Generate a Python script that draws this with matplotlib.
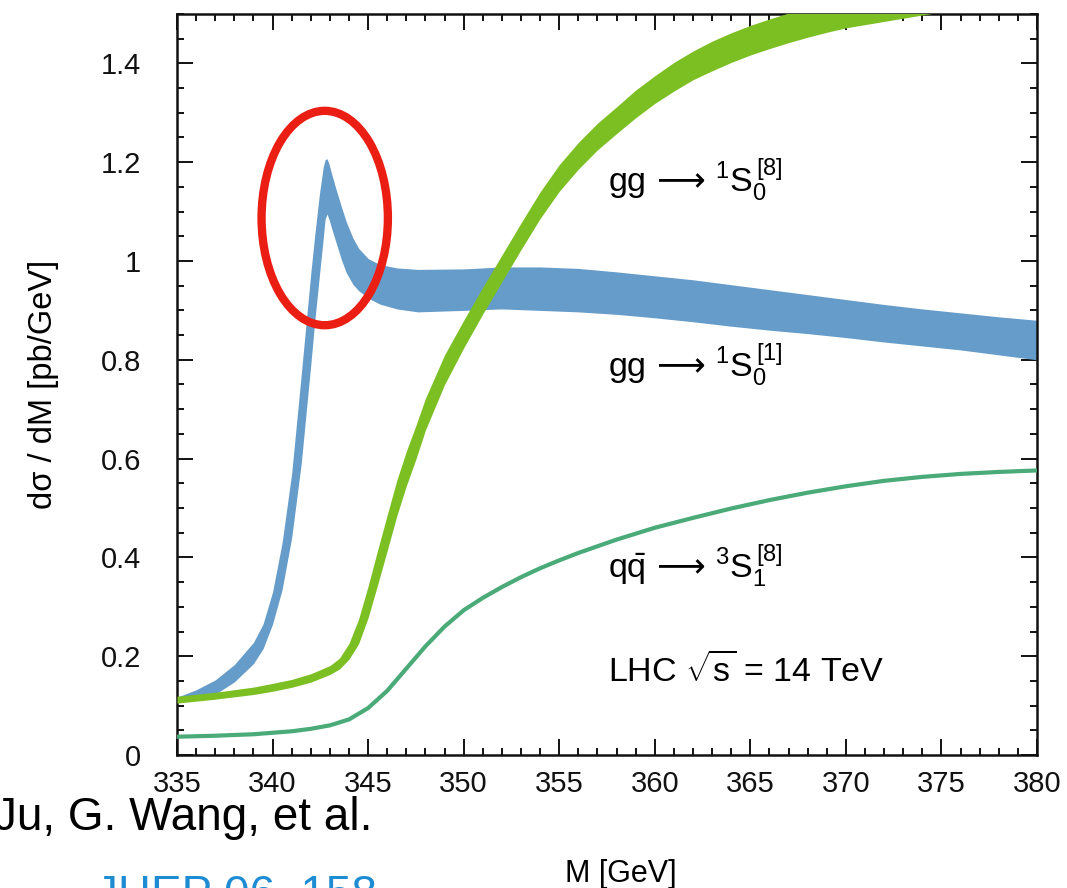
import numpy as np
import matplotlib
matplotlib.use('Agg')
import matplotlib.pyplot as plt
from matplotlib.patches import Ellipse
from matplotlib.ticker import MultipleLocator, FixedLocator

plt.rcParams['font.family'] = ['Liberation Sans', 'DejaVu Sans']
plt.rcParams['mathtext.fontset'] = 'custom'
plt.rcParams['mathtext.rm'] = 'Liberation Sans'
plt.rcParams['mathtext.it'] = 'Liberation Sans:italic'
plt.rcParams['mathtext.bf'] = 'Liberation Sans:bold'
plt.rcParams['mathtext.sf'] = 'DejaVu Sans'

# gg -> 1S0[1] band (blue)
m_singlet = [335, 336, 337, 338, 339, 339.5, 340, 340.5, 341, 341.5, 342, 342.2, 342.45,
             342.65, 342.75, 342.85, 342.95, 343.1, 343.3, 343.6, 343.85, 344.2, 344.5, 345,
             345.6, 346.5, 347.6, 350, 352, 354, 356, 358, 360, 362, 364, 366, 368, 370,
             372, 374, 376, 378, 380]
singlet_hi = [0.117, 0.132, 0.152, 0.183, 0.228, 0.265, 0.33, 0.43, 0.57, 0.77, 0.975, 1.05,
              1.135, 1.19, 1.205, 1.207, 1.197, 1.175, 1.148, 1.11, 1.08, 1.047, 1.026, 1.005,
              0.993, 0.986, 0.983, 0.984, 0.988, 0.988, 0.985, 0.978, 0.97, 0.962, 0.952,
              0.942, 0.932, 0.922, 0.912, 0.903, 0.895, 0.887, 0.88]
singlet_lo = [0.107, 0.111, 0.123, 0.148, 0.185, 0.215, 0.265, 0.335, 0.44, 0.59, 0.79, 0.875,
              0.97, 1.045, 1.085, 1.095, 1.085, 1.065, 1.04, 1.003, 0.977, 0.953, 0.94, 0.925,
              0.913, 0.903, 0.897, 0.90, 0.903, 0.90, 0.897, 0.892, 0.885, 0.877, 0.868,
              0.86, 0.853, 0.845, 0.836, 0.828, 0.82, 0.81, 0.80]

# gg -> 1S0[8] band (green)
m_octet = [335, 337, 339, 340, 341, 342, 343, 343.5, 344, 344.5, 345, 345.5, 346, 346.5,
           347, 347.5, 348, 349, 350, 351, 352, 353, 354, 355, 356, 357, 358, 359, 360,
           361, 362, 363, 364, 365, 366, 367, 368, 369, 370, 372, 374, 376, 378, 380]
octet_mid = [0.112, 0.12, 0.13, 0.137, 0.145, 0.156, 0.172, 0.185, 0.21, 0.25, 0.31, 0.38,
             0.45, 0.52, 0.58, 0.633, 0.69, 0.78, 0.852, 0.92, 0.985, 1.05, 1.113, 1.168,
             1.213, 1.252, 1.285, 1.318, 1.347, 1.373, 1.396, 1.415, 1.432, 1.447, 1.46,
             1.472, 1.483, 1.493, 1.502, 1.515, 1.528, 1.54, 1.55, 1.56]
octet_hw = [0.007, 0.007, 0.0075, 0.008, 0.008, 0.0085, 0.009, 0.011, 0.016, 0.025, 0.032,
            0.035, 0.036, 0.036, 0.035, 0.034, 0.032, 0.030, 0.028, 0.027, 0.027, 0.027,
            0.027, 0.027, 0.027, 0.027, 0.027, 0.028, 0.028, 0.029, 0.029, 0.030, 0.030,
            0.030, 0.030, 0.030, 0.030, 0.030, 0.030, 0.030, 0.030, 0.030, 0.030, 0.030]

# q qbar -> 3S1[8] line (teal)
m_qq = [335, 337, 339, 340, 341, 342, 343, 344, 345, 346, 347, 348, 349, 350, 351, 352,
        353, 354, 355, 356, 358, 360, 362, 364, 366, 368, 370, 372, 374, 376, 378, 380]
qq_val = [0.037, 0.039, 0.042, 0.045, 0.048, 0.053, 0.06, 0.072, 0.095, 0.13, 0.175, 0.22,
          0.26, 0.293, 0.318, 0.34, 0.36, 0.378, 0.394, 0.409, 0.436, 0.46, 0.48, 0.499,
          0.516, 0.531, 0.544, 0.555, 0.563, 0.569, 0.573, 0.576]

x_ticks = [335, 340, 345, 350, 355, 360, 365, 370, 375, 380]
y_ticks = [0, 0.2, 0.4, 0.6, 0.8, 1.0, 1.2, 1.4]
y_ticklabels = ['0', '0.2', '0.4', '0.6', '0.8', '1', '1.2', '1.4']

c_blue = '#659cc9'
c_green = '#7bbf22'
c_teal = '#4aaa78'

fig = plt.figure(figsize=(10.67, 8.88), dpi=100)
ax = fig.add_axes([177/1067, 1 - 755/888, 860/1067, 741/888])

ax.fill_between(m_singlet, singlet_lo, singlet_hi, color=c_blue, lw=0, zorder=2)
om = np.array(octet_mid)
oh = np.array(octet_hw)
ax.fill_between(m_octet, om - oh, om + oh, color=c_green, lw=0, zorder=3)
ax.plot(m_qq, qq_val, color=c_teal, lw=3.0, zorder=4, solid_capstyle='butt')

ax.set_xlim(335, 380)
ax.set_ylim(0, 1.5)
ax.xaxis.set_major_locator(FixedLocator(x_ticks))
ax.xaxis.set_minor_locator(MultipleLocator(1))
ax.yaxis.set_major_locator(FixedLocator(y_ticks))
ax.set_yticklabels(y_ticklabels)
ax.yaxis.set_minor_locator(MultipleLocator(0.05))

ax.tick_params(which='both', direction='in', top=True, right=True, width=1.4,
               labelsize=21, colors='#111111')
ax.tick_params(which='major', length=11.5)
ax.tick_params(which='minor', length=5.3)
ax.tick_params(axis='x', pad=11)
ax.tick_params(axis='y', pad=26)
for sp in ax.spines.values():
    sp.set_linewidth(1.8)
    sp.set_color('#111111')

ax.set_ylabel('dσ / dM [pb/GeV]', fontsize=23.5, labelpad=30)
fig.text(621/1067, 1 - 882/888, 'M [GeV]', fontsize=22, ha='center', va='baseline')

fs = 24.5
arrow = r'\,\mathsf{\longrightarrow}\,'
ax.text(357.55, 1.14, r'$\mathrm{gg}' + arrow + r'{}^{1}\mathrm{S}_{0}^{\,[8]}$', fontsize=fs,
        ha='left', va='baseline')
ax.text(357.55, 0.765, r'$\mathrm{gg}' + arrow + r'{}^{1}\mathrm{S}_{0}^{\,[1]}$', fontsize=fs,
        ha='left', va='baseline')
ax.text(357.55, 0.359, r'$\mathrm{q}\bar{\mathrm{q}}' + arrow + r'{}^{3}\mathrm{S}_{1}^{\,[8]}$',
        fontsize=fs, ha='left', va='baseline')
ax.text(357.55, 0.148, r'LHC $\sqrt{\mathrm{s}}$ = 14 TeV', fontsize=fs, ha='left',
        va='baseline')

ell = Ellipse((342.73, 1.087), width=6.61, height=0.434, fill=False,
              edgecolor='#eb1e14', lw=6, zorder=6, clip_on=False)
ax.add_patch(ell)

fig.text(-6/1067, 1 - 830/888, 'Ju, G. Wang, et al.', fontsize=33, ha='left',
         va='baseline', color='black')
fig.text(95/1067, 1 - 908/888, 'JHEP 06, 158', fontsize=33, ha='left',
         va='baseline', color='#1e8cd2')

fig.savefig('out.png', dpi=100)
